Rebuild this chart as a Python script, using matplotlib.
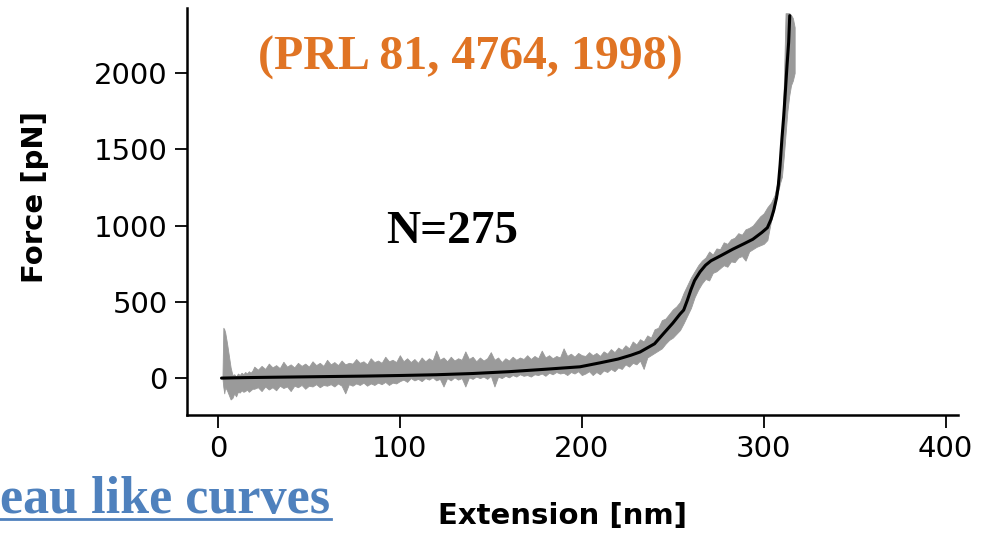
import numpy as np
import matplotlib.pyplot as plt
from matplotlib.lines import Line2D

# 平滑拟合曲线 (黑线)
fit_x = [2, 10, 20, 40, 60, 80, 100, 120, 140, 160, 180, 199, 210, 220, 227,
         232, 240, 245, 250, 254, 256, 258, 260, 262, 265, 268, 271, 276, 283,
         289, 294, 299, 302, 304, 305.5, 307, 308, 309, 310, 311, 312, 312.8,
         313.7, 314.3]
fit_f = [0, 2, 4, 7, 10, 13, 17, 22, 30, 42, 58, 74, 100, 125, 150,
         171, 225, 293, 360, 420, 446, 510, 580, 640, 697, 740, 769, 800, 845,
         880, 910, 955, 986, 1040, 1100, 1180, 1260, 1400, 1570, 1720, 1900, 2050,
         2202, 2376]

# 原始数据噪声带 (灰色) 的上下包络
raw_x = [2.5, 3, 3.5, 4, 5, 6, 7, 8, 9, 10, 11, 12, 13, 14, 15, 16, 17, 18, 19,
         20, 22, 24, 26, 28, 30, 32, 34, 36, 38, 40, 42, 44, 46, 48, 50, 52, 54,
         56, 58, 60, 62, 64, 66, 68, 70, 72, 74, 76, 78, 80, 82, 84, 86, 88, 90,
         92, 94, 96, 98, 100, 102, 104, 106, 108, 110, 112, 114, 116, 118, 120,
         122, 124, 126, 128, 130, 132, 134, 136, 138, 140, 142, 144, 146, 148,
         150, 152, 154, 156, 158, 160, 162, 164, 166, 168, 170, 172, 174, 176,
         178, 180, 182, 184, 186, 188, 190, 192, 194, 196, 198, 200, 202, 204,
         206, 208, 210, 212, 214, 216, 218, 220, 222, 224, 226, 228, 230, 232,
         234, 236, 238, 240, 242, 244, 246, 248, 250, 252, 254, 256, 258, 260,
         262, 264, 266, 268, 270, 272, 274, 276, 278, 280, 282, 284, 286, 288,
         290, 292, 294, 296, 298, 300, 302, 304, 306, 307, 308, 309, 310, 311,
         312, 313, 314, 315, 316, 317]
raw_hi = [0, 330, 320, 300, 230, 150, 70, 20, 25, 10, 30, 20, 35, 25, 40, 30,
          45, 35, 50,
          75, 55, 80, 60, 95, 70, 85, 65, 107, 75, 90, 70, 100, 80, 95, 75, 110,
          85, 100, 80, 120, 90, 105, 85, 115, 90, 100, 95, 125, 100, 110, 90, 130,
          105, 115, 100, 140, 110, 120, 105, 150,
          110, 130, 105, 125, 100, 135, 110, 130, 115, 180, 120, 135, 110, 140,
          115, 130, 120, 175, 125, 140, 110, 135, 115, 130, 170, 120, 135, 105,
          130, 115, 140, 120, 135, 125, 150, 125, 145, 130, 180, 135, 150, 130,
          145, 135, 195, 145, 160, 140, 165, 150,
          145, 170, 150, 165, 145, 175, 160, 190, 170, 200, 185, 215, 195, 240,
          220, 255, 240, 280, 265, 320, 330, 380, 390, 420, 450, 470, 500, 560,
          610, 660, 700, 740, 770, 790, 830, 810, 850, 845, 890, 880, 910, 920,
          950, 940, 975, 985, 1000, 1030, 1060, 1080, 1120, 1150, 1200, 1260,
          1320, 1400, 1600, 1900, 2392, 2392, 2392, 2380, 2360, 2300]
raw_lo = [0, -60, -100, -60, -80, -110, -140, -130, -100, -120, -90, -95, -80,
          -90, -85, -75, -90, -80, -70,
          -70, -60, -85, -55, -75, -60, -80, -50, -65, -55, -85, -50, -60, -45,
          -70, -50, -55, -40, -60, -45, -50, -40, -55, -35, -50, -100, -40, -50,
          -35, -45, -30, -50, -35, -45, -30, -40, -25, -45, -30, -35, -20,
          -10, -25, 0, -15, -5, -20, 0, -10, 5, -15, -5, -55, 0, -15, 5, -10, 0,
          -55, 5, -5, 10, 0, 10, -5, 15, -55, 10, 0, 15, 5, 20, 10, 25, 15, 20,
          10, 25, 20, 30, 15, 35, 25, 40, 30, 35, 20, 40, 30, 45, 20,
          30, 45, 20, 40, 25, 50, 40, 60, 45, 70, 60, 90, 75, 100, 90, 115, 60,
          135, 150, 165, 180, 195, 225, 250, 265, 290, 315, 360, 410, 460, 530,
          580, 620, 650, 640, 690, 700, 720, 740, 730, 765, 760, 790, 800, 770,
          830, 845, 860, 870, 880, 905, 1030, 1120, 1180, 1230, 1280, 1320, 1450,
          1600, 1750, 1850, 1920, 1950, 2000]

x_ticks = [0, 100, 200, 300, 400]
y_ticks = [0, 500, 1000, 1500, 2000]

fig = plt.figure(figsize=(9.84, 5.35), dpi=100)
ax = fig.add_axes([0.190, 0.224, 0.784, 0.761])

ax.fill_between(raw_x, raw_lo, raw_hi, color='#9a9a9a', linewidth=0.6,
                edgecolor='#9a9a9a')
ax.plot(fit_x, fit_f, color='black', linewidth=2.2, solid_capstyle='round')

ax.set_xlim(-17, 407)
ax.set_ylim(-243, 2426)
ax.set_xticks(x_ticks)
ax.set_yticks(y_ticks)

for s in ['top', 'right']:
    ax.spines[s].set_visible(False)
for s in ['left', 'bottom']:
    ax.spines[s].set_linewidth(1.8)

ax.tick_params(direction='out', length=9, width=1.3, labelsize=21, pad=5)
for lab in ax.get_xticklabels() + ax.get_yticklabels():
    lab.set_family('DejaVu Sans')

# 坐标轴标题
fig.text(0.572, 0.036, 'Extension [nm]', fontsize=21, fontweight='bold',
         family='DejaVu Sans', ha='center', va='center')
fig.text(0.036, 0.632, 'Force [pN]', fontsize=21, fontweight='bold',
         family='DejaVu Sans', ha='center', va='center', rotation=90)

fig.text(0.478, 0.891, '(PRL 81, 4764, 1998)', color='#E07424',
         fontsize=34.5, fontweight='bold', family='Liberation Serif',
         ha='center', va='center')
fig.text(0.459, 0.566, 'N=275', color='black', fontsize=34,
         fontweight='bold', family='Liberation Serif', ha='center', va='center')

# 左下角的标题 (原图只露出后半截)
fig.text(0.0, 0.041, 'eau like curves', color='#4F81BD', fontsize=37.5,
         fontweight='bold', family='Liberation Serif', ha='left',
         va='baseline')
fig.add_artist(Line2D([0.0, 0.336], [0.030, 0.030], color='#4F81BD',
                      linewidth=2, transform=fig.transFigure))

fig.savefig('out.png', dpi=100)
